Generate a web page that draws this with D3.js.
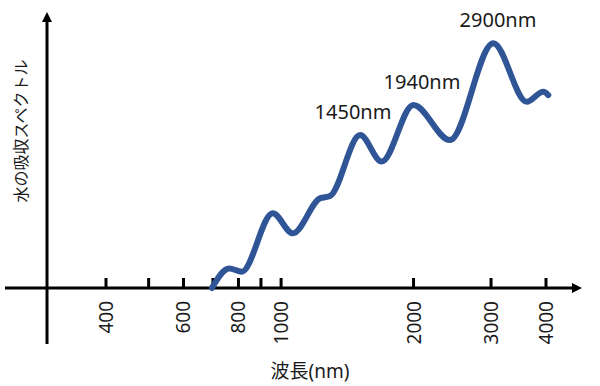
<!DOCTYPE html>
<html>
<head>
<meta charset="utf-8">
<script src="https://cdn.jsdelivr.net/npm/d3@7"></script>
<style>
  body { margin: 0; background: #fff; }
  text { font-family: "Noto Sans", "Noto Sans CJK JP", sans-serif; fill: #1a1a1a; }
</style>
</head>
<body>
<div id="chart"></div>
<script>
// wavelength (nm) and relative absorption
var wavelengths = [696, 762, 814, 957, 1063, 1226, 1292, 1512, 1693, 1998, 2420, 3036, 3616, 3944, 4048];
var absorption = [0, 7.1, 5.9, 27.1, 19.8, 32.5, 33.3, 55.4, 45.8, 66.3, 53.6, 88.7, 67.5, 71.1, 69.9];

var tickValues = [400, 500, 600, 700, 800, 900, 1000, 2000, 3000, 4000];
var tickLabels = [400, 600, 800, 1000, 2000, 3000, 4000];

var peakLabels = ["1450nm", "1940nm", "2900nm"];
var peakIndex = [7, 9, 11];

var svgWidth = 600;
var svgHeight = 386;

var svg = d3.select("#chart")
  .append("svg")
  .attr("width", svgWidth)
  .attr("height", svgHeight);

// log scale on x, arbitrary units on y
var x = d3.scaleLog().domain([400, 4000]).range([106, 546]);
var y = d3.scaleLinear().domain([0, 100]).range([288, 12]);

var axisY = y(0);
var axisX = 47;

// arrow head
svg.append("defs").append("marker")
  .attr("id", "arrow")
  .attr("viewBox", "0 0 10 10")
  .attr("refX", 1)
  .attr("refY", 5)
  .attr("markerUnits", "userSpaceOnUse")
  .attr("markerWidth", 10)
  .attr("markerHeight", 10)
  .attr("orient", "auto")
  .append("path")
  .attr("d", "M0,0 L10,5 L0,10 Z")
  .attr("fill", "#000");

// x axis line
svg.append("line")
  .attr("x1", 5).attr("x2", 573)
  .attr("y1", axisY).attr("y2", axisY)
  .attr("stroke", "#000")
  .attr("stroke-width", 3)
  .attr("marker-end", "url(#arrow)");

// y axis line
svg.append("line")
  .attr("x1", axisX).attr("x2", axisX)
  .attr("y1", 344).attr("y2", 21)
  .attr("stroke", "#000")
  .attr("stroke-width", 3)
  .attr("marker-end", "url(#arrow)");

// ticks
svg.selectAll(".tick")
  .data(tickValues)
  .enter()
  .append("line")
  .attr("class", "tick")
  .attr("x1", d => x(d)).attr("x2", d => x(d))
  .attr("y1", axisY - 10).attr("y2", axisY)
  .attr("stroke", "#000")
  .attr("stroke-width", 3);

// tick labels, rotated
svg.selectAll(".tickLabel")
  .data(tickLabels)
  .enter()
  .append("text")
  .attr("class", "tickLabel")
  .attr("transform", d => `translate(${x(d) + 7}, ${axisY + 13}) rotate(-90)`)
  .attr("text-anchor", "end")
  .style("font-size", "19px")
  .text(d => d);

// curve
var line = d3.line()
  .x((d, i) => x(wavelengths[i]))
  .y(d => y(d))
  .curve(d3.curveMonotoneX);

svg.append("path")
  .datum(absorption)
  .attr("d", line)
  .attr("fill", "none")
  .attr("stroke", "#2F5597")
  .attr("stroke-width", 6)
  .attr("stroke-linecap", "round")
  .attr("stroke-linejoin", "round");

// peak labels
svg.selectAll(".peak")
  .data(peakIndex)
  .enter()
  .append("text")
  .attr("class", "peak")
  .attr("x", (d, i) => [353, 422, 498][i])
  .attr("y", d => y(absorption[d]) - 16)
  .attr("text-anchor", "middle")
  .style("font-size", "20px")
  .text((d, i) => peakLabels[i]);

// axis titles
svg.append("text")
  .attr("x", 310)
  .attr("y", 378)
  .attr("text-anchor", "middle")
  .style("font-size", "19px")
  .text("波長(nm)");

svg.append("text")
  .attr("transform", "translate(27, 131) rotate(-90)")
  .attr("text-anchor", "middle")
  .style("font-size", "16px")
  .text("水の吸収スペクトル");
</script>
</body>
</html>
